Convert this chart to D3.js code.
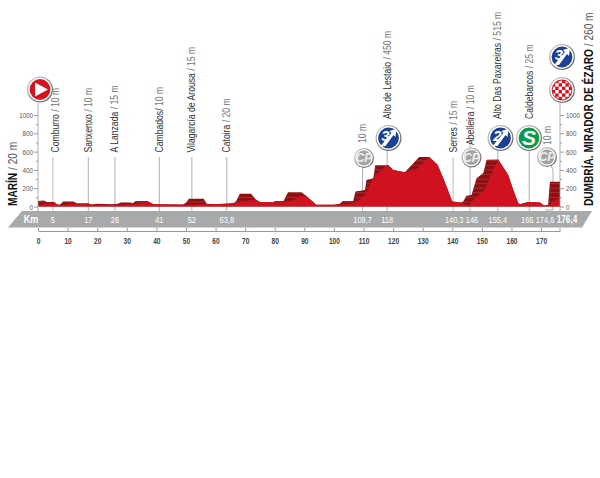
<!DOCTYPE html>
<html>
<head>
<meta charset="utf-8">
<script src="https://cdn.jsdelivr.net/npm/d3@7"></script>
<style>
  html, body { margin: 0; background: #fff; }
  text { font-family: "Liberation Sans", sans-serif; }
</style>
</head>
<body>
<svg id="chart" width="600" height="478"></svg>
<script>
// back face of the profile (dark red)
const backKm = [0, 2, 3, 5.5, 6.5, 7.5, 8.5, 12, 13, 17, 18, 20, 25, 27, 28, 31, 32, 33, 37, 39, 49, 50, 51, 56, 57, 60, 66, 67, 68.2, 72, 73.5, 75, 79.5, 80, 83, 84.5, 89, 90.5, 93, 94, 100, 102, 103, 106.5, 107.3, 110.5, 111, 113.3, 114, 118.4, 120, 124, 128.8, 132.2, 135, 137.2, 140, 142.9, 143.7, 144.8, 146.5, 148.2, 150.5, 151.6, 155.5, 158.9, 160.6, 162.3, 163, 165.6, 169.6, 171, 172.4, 173, 176.4];
const backElev = [60, 65, 50, 50, 22, 22, 55, 55, 35, 35, 22, 30, 25, 30, 45, 45, 35, 60, 60, 25, 22, 40, 85, 85, 30, 25, 30, 60, 138, 138, 80, 50, 45, 60, 60, 155, 155, 120, 50, 20, 20, 30, 60, 60, 164, 180, 290, 310, 450, 450, 400, 375, 540, 540, 455, 290, 55, 45, 55, 117, 127, 310, 365, 510, 515, 345, 180, 35, 25, 50, 45, 10, 20, 270, 270];
// front face of the profile (bright red)
const frontKm = [0, 3, 5.5, 6.5, 7.5, 12, 13, 17, 18, 25, 30, 33, 37, 39, 50, 53, 55, 60, 68, 72, 73.5, 75, 83, 86, 89, 90.5, 93, 94, 100, 105, 107.3, 110.5, 113.3, 117.3, 118.4, 120, 124, 127.7, 132.2, 135, 137.2, 140, 143, 145.4, 147.7, 151, 152.8, 155.5, 158.9, 160.6, 162.3, 163, 165.6, 169.6, 171, 172.4, 174.6, 176.4];
const frontElev = [20, 30, 35, 20, 15, 30, 30, 25, 20, 20, 25, 25, 50, 25, 20, 20, 25, 25, 45, 70, 70, 50, 45, 65, 120, 110, 50, 20, 20, 25, 40, 127, 310, 440, 450, 400, 375, 400, 540, 455, 290, 55, 40, 8, 90, 180, 325, 515, 345, 180, 35, 25, 50, 45, 10, 12, 60, 100];

const yTicks = [0, 200, 400, 600, 800, 1000];
const yMinorTicks = [100, 300, 500, 700, 900];
const kmTicks = [0, 10, 20, 30, 40, 50, 60, 70, 80, 90, 100, 110, 120, 130, 140, 150, 160, 170];

const placeNames = ["Comburro", "Sanxenxo", "A Lanzada", "Cambados/", "Vilagarcía de Arousa", "Catoira", "Serres", "Abelleira", "Alto de Lestaio", "Alto Das Paxareiras", "Caldebarcos"];
const placeHeights = [" / 10 m", " / 10 m", " / 15 m", " 10 m", " / 15 m", " / 20 m", " / 15 m", " / 10 m", " / 450 m", " / 515 m", " / 25 m"];
const placeKm = [5, 17, 26, 41, 52, 63.8, 140.3, 146, 118, 155.4, 166];
const placeRows = ["low", "low", "low", "low", "low", "low", "low", "cp", "badge", "badge", "badge"];

const stripKm = [5, 17, 26, 41, 52, 63.8, 109.7, 118, 140.3, 146, 155.4, 166];
const stripText = ["5", "17", "26", "41", "52", "63,8", "109,7", "118", "140,3", "146", "155,4", "166"];

const width = 600;
const height = 478;
const marginLeft = 38;
const marginRight = 40;
const yBase = 206.5;
const yTopTick = 115;
const yEnd = 1130;
const narrow = 0.78;

const x = d3.scaleLinear().domain([0, 176.4]).range([marginLeft, width - marginRight]);
const y = d3.scaleLinear().domain([0, 1000]).range([yBase, yTopTick]);

const svg = d3.select("#chart").attr("viewBox", [0, 0, width, height]);
const defs = svg.append("defs");

const ringGrad = defs.append("linearGradient").attr("id", "ring")
  .attr("x1", 0).attr("y1", 0).attr("x2", 1).attr("y2", 1);
ringGrad.append("stop").attr("offset", "0%").attr("stop-color", "#d9d9d9");
ringGrad.append("stop").attr("offset", "100%").attr("stop-color", "#555");

const area = (K, E) => d3.area()
  .x((i) => x(K[i]))
  .y0(y(0))
  .y1((i) => y(E[i]))(d3.range(K.length));

defs.append("clipPath").attr("id", "backClip").append("path").attr("d", area(backKm, backElev));

// leader lines go under the profile
const leaders = svg.append("g").attr("stroke", "#9a9a9a").attr("stroke-width", 0.8);

placeKm.forEach((km, i) => {
  const row = placeRows[i];
  const top = row === "low" ? 157 : 138;
  leaders.append("line")
    .attr("x1", x(km)).attr("x2", x(km))
    .attr("y1", top).attr("y2", 211)
    .attr("stroke", km === 5 || km === 140.3 ? "#cfcfcf" : "#9a9a9a")
    .attr("stroke-width", km === 5 || km === 140.3 ? 1.4 : 0.8);
});
leaders.append("line").attr("x1", x(109.7)).attr("x2", x(109.7)).attr("y1", 158).attr("y2", 211);
leaders.append("path").attr("fill", "none")
  .attr("d", `M547,157L553,170V210H545`);

// profile
svg.append("path").attr("d", area(backKm, backElev)).attr("fill", "#8e1014");

const stripes = svg.append("g").attr("clip-path", "url(#backClip)")
  .attr("stroke", "#c2504d").attr("stroke-width", 0.6).attr("opacity", 0.8);
d3.range(50, 600, 50).forEach((e) => {
  stripes.append("line").attr("x1", x(0)).attr("x2", x(176.4)).attr("y1", y(e)).attr("y2", y(e));
});

svg.append("path").attr("d", area(frontKm, frontElev)).attr("fill", "#d0111f");

// y axes
const yAxisLeft = svg.append("g").attr("transform", `translate(${x(0)},0)`)
  .call(d3.axisLeft(y).tickValues(yTicks).tickSize(4).tickPadding(1).tickFormat(d3.format("d")));
const yAxisRight = svg.append("g").attr("transform", `translate(${x(176.4)},0)`)
  .call(d3.axisRight(y).tickValues(yTicks).tickSize(4).tickPadding(1).tickFormat(d3.format("d")));
[yAxisLeft, yAxisRight].forEach((g) => {
  g.select(".domain").remove();
  g.selectAll("line").attr("stroke", "#999");
  g.selectAll("text").attr("fill", "#555").attr("font-size", 8)
    .attr("transform", `scale(${narrow},1)`);
});
yAxisLeft.selectAll("text").attr("x", -5 / narrow);
yAxisRight.selectAll("text").attr("x", 6 / narrow);
svg.append("g").attr("transform", `translate(${x(0)},0)`)
  .call(d3.axisLeft(y).tickValues(yMinorTicks).tickSize(2).tickFormat(""))
  .call((g) => g.select(".domain").remove())
  .selectAll("line").attr("stroke", "#999");
svg.append("g").attr("transform", `translate(${x(176.4)},0)`)
  .call(d3.axisRight(y).tickValues(yMinorTicks).tickSize(2).tickFormat(""))
  .call((g) => g.select(".domain").remove())
  .selectAll("line").attr("stroke", "#999");
[x(0), x(176.4)].forEach((px) => {
  svg.append("line").attr("x1", px).attr("x2", px)
    .attr("y1", y(yEnd)).attr("y2", 211)
    .attr("stroke", "#999").attr("stroke-width", 0.8);
});

// km strip
svg.append("path").attr("d", "M22,211H592L582,227.5H8Z").attr("fill", "#a7a9ab");
const stripLabel = (px, str, size, weight) => {
  svg.append("text").attr("transform", `translate(${px},222.5) scale(${narrow},1)`)
    .attr("text-anchor", "middle").attr("fill", "#fff")
    .attr("font-size", size).attr("font-weight", weight || "normal").text(str);
};
stripLabel(31, "Km", 11.5, "bold");
// a few labels sit off their km so they don't touch
const stripNudge = { 140.3: 1, 146: 2, 166: -2 };
stripKm.forEach((km, i) => stripLabel(x(km) + (stripNudge[km] || 0), stripText[i], 9.5));
stripLabel(545, "174,6", 9.5);
stripLabel(567, "176,4", 10.5, "bold");

// km axis
const kmAxis = svg.append("g").attr("transform", "translate(0,231)")
  .call(d3.axisBottom(x).tickValues(kmTicks).tickSize(-3).tickSizeOuter(0).tickPadding(7));
kmAxis.select(".domain").attr("stroke", "#999");
kmAxis.selectAll("line").attr("stroke", "#999");
kmAxis.selectAll("text").attr("fill", "#444").attr("font-size", 8.5).attr("font-weight", "bold")
  .attr("transform", `scale(${narrow},1)`);
svg.append("line").attr("x1", x(176.4)).attr("x2", x(176.4)).attr("y1", 228).attr("y2", 231).attr("stroke", "#999");

// rotated labels
const rotated = (px, py, parts, size, sx = narrow) => {
  const t = svg.append("text")
    .attr("transform", `translate(${px},${py}) rotate(-90) scale(${sx},1)`)
    .attr("font-size", size);
  parts.forEach(([str, color, weight]) => {
    t.append("tspan").attr("fill", color).attr("font-weight", weight || "normal").text(str);
  });
};

const labelBottom = { low: 152.5, cp: 145, badge: 119 };
placeNames.forEach((name, i) => {
  const shift = name === "Comburro" ? 6.5 : 3.5;
  rotated(x(placeKm[i]) + shift, labelBottom[placeRows[i]], [[name, "#333"], [placeHeights[i], "#777"]], 11.5, 0.75);
});
rotated(x(109.7) + 3.5, 143, [["10 m", "#777"]], 11.5, 0.75);
rotated(550.5, 145, [["10 m", "#777"]], 11.5, 0.75);
rotated(17, 206, [["MARÍN", "#111", "bold"], [" / 20 m", "#555"]], 13);
rotated(593, 206, [["DUMBRÍA. MIRADOR DE ÉZARO", "#111", "bold"], [" / 260 m", "#555"]], 13);

// badges
const disc = (px, py, r, fill) => {
  const g = svg.append("g").attr("transform", `translate(${px},${py})`);
  g.append("circle").attr("r", r).attr("fill", "url(#ring)");
  g.append("circle").attr("r", r - 1.3).attr("fill", "#fff");
  g.append("circle").attr("r", r - 2.6).attr("fill", fill);
  return g;
};

const mountain = (px, py, cat) => {
  const g = disc(px, py, 13, "#1d3f94");
  g.append("path").attr("d", "M-8,8L3,-5L1,-7L8,-9L7,-1L5,-3L-3,8Z").attr("fill", "#fff");
  g.append("text").attr("x", -3).attr("y", 3).attr("text-anchor", "middle").attr("fill", "#fff")
    .attr("font-size", 15).attr("font-weight", "bold").attr("font-style", "italic").text(cat);
  g.append("text").attr("x", 3.5).attr("y", -3).attr("text-anchor", "middle").attr("fill", "#fff")
    .attr("font-size", 6).attr("font-weight", "bold").text("ª");
};

const checkpoint = (px, py) => {
  const g = disc(px, py, 10, "#a3a3a3");
  g.append("text").attr("text-anchor", "middle").attr("y", 4).attr("fill", "#eee")
    .attr("font-size", 12).attr("font-weight", "bold").attr("font-style", "italic").text("CP");
};

// start
const start = disc(40, 89.5, 13, "#d7121f");
start.append("path").attr("d", "M-5,-7L8,0L-5,7Z").attr("fill", "#fff");

// finish
const finish = disc(562, 90, 13, "#d7121f");
defs.append("clipPath").attr("id", "finishClip").append("circle").attr("r", 9.5);
const checks = finish.append("g").attr("clip-path", "url(#finishClip)");
d3.range(-3, 3).forEach((a) => d3.range(-3, 3).forEach((b) => {
  if ((a + b + 6) % 2 === 0) {
    checks.append("rect").attr("x", a * 3.4).attr("y", b * 3.4).attr("width", 3.4).attr("height", 3.4).attr("fill", "#fff");
  }
}));

mountain(562, 57, "3");
mountain(388.5, 138, "3");
mountain(500.5, 138, "2");

const sprint = disc(529, 138, 13, "#0a9a48");
sprint.append("text").attr("text-anchor", "middle").attr("y", 7).attr("fill", "#fff")
  .attr("font-size", 21).attr("font-weight", "bold").attr("font-style", "italic").text("S");

checkpoint(364, 158);
checkpoint(471.5, 157.5);
checkpoint(547, 157);
</script>
</body>
</html>
